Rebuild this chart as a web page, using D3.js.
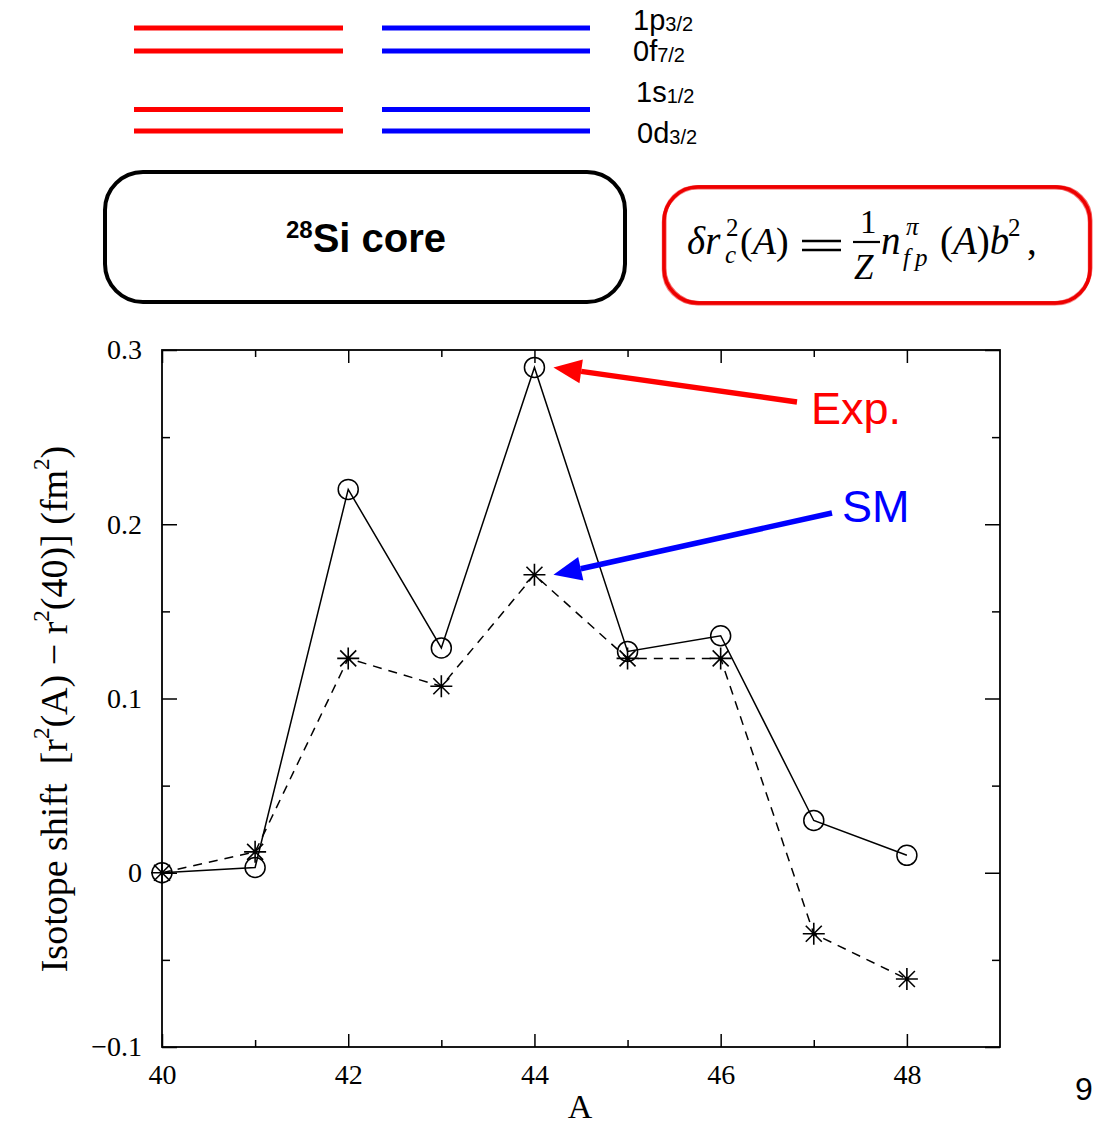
<!DOCTYPE html>
<html>
<head>
<meta charset="utf-8">
<script src="https://cdn.jsdelivr.net/npm/d3@7"></script>
<style>
  body { margin: 0; background: #fff; }
  svg { display: block; }
</style>
</head>
<body>
<div class="chart"></div>
<script>
'use strict';

// Data
const massNumbers = [40, 41, 42, 43, 44, 45, 46, 47, 48];
const expShift = [0, 0.003, 0.220, 0.129, 0.290, 0.127, 0.136, 0.030, 0.010];
const smShift = [0, 0.012, 0.123, 0.107, 0.171, 0.123, 0.123, -0.035, -0.061];
const xTickValues = [40, 42, 44, 46, 48];
const yTickValues = [-0.1, 0, 0.1, 0.2, 0.3];

const levelNames = ['1p', '0f', '1s', '0d'];
const levelJ = ['3/2', '7/2', '1/2', '3/2'];
const levelEnergy = [4.9, 4.0, 1.7, 0.85];

// Initialize
const w = 1101;
const h = 1124;
const plot = { left: 162, right: 1000, top: 350, bottom: 1047 };

const svg = d3.select('.chart')
  .append('svg')
  .attr('width', w)
  .attr('height', h);

const serif = '"Liberation Serif", "Times New Roman", serif';
const sans = '"Liberation Sans", Helvetica, Arial, sans-serif';

// Level scheme
const levelY = d3.scaleLinear().domain([0.85, 4.9]).range([131, 28]);
const levelLabelX = [633, 633, 636, 637];
const levelLabelY = [30, 61, 102, 143];

[{ x0: 134, x1: 343, color: '#ff0000' }, { x0: 382, x1: 590, color: '#0000ff' }]
  .forEach(col => {
    svg.append('g')
      .selectAll('line')
      .data(levelEnergy)
      .enter()
      .append('line')
      .attr('x1', col.x0)
      .attr('x2', col.x1)
      .attr('y1', d => levelY(d))
      .attr('y2', d => levelY(d))
      .attr('stroke', col.color)
      .attr('stroke-width', 5);
  });

const lvText = svg.append('g')
  .selectAll('text')
  .data(levelNames)
  .enter()
  .append('text')
  .attr('x', (d, i) => levelLabelX[i])
  .attr('y', (d, i) => levelLabelY[i])
  .attr('font-family', sans)
  .attr('font-size', 29)
  .attr('fill', '#000');
lvText.append('tspan').text(d => d);
lvText.append('tspan')
  .attr('font-size', 20)
  .attr('dy', 1)
  .text((d, i) => levelJ[i]);

// Si core box
svg.append('rect')
  .attr('x', 105)
  .attr('y', 172)
  .attr('width', 520)
  .attr('height', 130)
  .attr('rx', 38)
  .attr('fill', 'none')
  .attr('stroke', '#000')
  .attr('stroke-width', 4);

const core = svg.append('text')
  .attr('x', 366)
  .attr('y', 252)
  .attr('text-anchor', 'middle')
  .attr('font-family', sans)
  .attr('font-weight', 'bold')
  .attr('font-size', 40);
core.append('tspan').attr('font-size', 24).attr('dy', -14).text('28');
core.append('tspan').attr('dy', 14).text('Si core');

// Formula box (rough red border)
const rough = [[0, 0, 3.5, 1], [1.5, -1, 2, 0.6], [-1.5, 1.5, 1.5, 0.5], [0.5, 2, 1.2, 0.45], [-1, -1.5, 1.2, 0.45]];
svg.append('g')
  .selectAll('rect')
  .data(rough)
  .enter()
  .append('rect')
  .attr('x', d => 664 + d[0])
  .attr('y', 187)
  .attr('width', 426)
  .attr('height', 116)
  .attr('transform', d => `translate(0, ${d[1]})`)
  .attr('rx', 34)
  .attr('fill', 'none')
  .attr('stroke', '#ee0000')
  .attr('stroke-width', d => d[2])
  .attr('opacity', d => d[3]);

const fml = svg.append('g')
  .attr('font-family', serif)
  .attr('fill', '#000');
// a text run made of [string, italic] parts
function ft(x, y, parts, size) {
  const t = fml.append('text')
    .attr('x', x)
    .attr('y', y)
    .attr('font-size', size);
  parts.forEach(p => {
    t.append('tspan')
      .attr('font-style', p[1] ? 'italic' : 'normal')
      .text(p[0]);
  });
}
const fb = 254;
ft(687, fb, [['δr', true]], 39);
ft(726, 236, [['2', false]], 25);
ft(725, 263, [['c', true]], 25);
ft(740, fb, [['(', false], ['A', true], [')', false]], 38);
fml.selectAll('line.eq')
  .data([241, 250])
  .enter()
  .append('line')
  .attr('x1', 802).attr('x2', 841)
  .attr('y1', d => d).attr('y2', d => d)
  .attr('stroke', '#000').attr('stroke-width', 2.4);
ft(860, 233, [['1', false]], 33);
fml.append('line')
  .attr('x1', 853).attr('x2', 880)
  .attr('y1', 242).attr('y2', 242)
  .attr('stroke', '#000').attr('stroke-width', 2.2);
ft(854, 279, [['Z', true]], 35);
ft(881, fb, [['n', true]], 39);
ft(906, 235, [['π', true]], 25);
ft(903, 266, [['f\u2009p', true]], 25);
ft(940, fb, [['(', false], ['A', true], [')', false], ['b', true]], 39);
ft(1008, 236, [['2', false]], 25);
ft(1027, fb, [[',', false]], 39);

// Scales
const xScale = d3.scaleLinear().domain([40, 49]).range([plot.left, plot.right]);
const yScale = d3.scaleLinear().domain([-0.1, 0.3]).range([plot.bottom, plot.top]);

// Frame
svg.append('rect')
  .attr('x', plot.left)
  .attr('y', plot.top)
  .attr('width', plot.right - plot.left)
  .attr('height', plot.bottom - plot.top)
  .attr('fill', 'none')
  .attr('stroke', '#000')
  .attr('stroke-width', 1.8);

// Axes (inward ticks on all four sides)
const majorX = xTickValues;
const minorX = d3.range(41, 49, 2);
const majorY = yTickValues;
const minorY = [-0.05, 0.05, 0.15, 0.25];

function addAxis(axis, tr) {
  const g = svg.append('g').attr('transform', tr).call(axis);
  g.select('.domain').remove();
  g.selectAll('.tick line').attr('stroke', '#000').attr('stroke-width', 1.5);
  return g;
}

const xBottom = addAxis(d3.axisBottom(xScale).tickValues(majorX).tickSizeInner(-13).tickPadding(17)
  .tickFormat(d3.format('d')), `translate(0, ${plot.bottom})`);
xBottom.selectAll('text')
  .attr('font-family', serif)
  .attr('font-size', 28)
  .attr('fill', '#000');
addAxis(d3.axisBottom(xScale).tickValues(minorX).tickSizeInner(-7).tickFormat(''), `translate(0, ${plot.bottom})`);
addAxis(d3.axisTop(xScale).tickValues(majorX).tickSizeInner(-13).tickFormat(''), `translate(0, ${plot.top})`);
addAxis(d3.axisTop(xScale).tickValues(minorX).tickSizeInner(-7).tickFormat(''), `translate(0, ${plot.top})`);

const yLeft = addAxis(d3.axisLeft(yScale).tickValues(majorY).tickSizeInner(-15).tickPadding(20)
  .tickFormat(d => d === 0 ? '0' : d3.format('.1f')(d).replace('-', '\u2212')), `translate(${plot.left}, 0)`);
yLeft.selectAll('text')
  .attr('font-family', serif)
  .attr('font-size', 28)
  .attr('fill', '#000');
addAxis(d3.axisLeft(yScale).tickValues(minorY).tickSizeInner(-8).tickFormat(''), `translate(${plot.left}, 0)`);
addAxis(d3.axisRight(yScale).tickValues(majorY).tickSizeInner(-15).tickFormat(''), `translate(${plot.right}, 0)`);
addAxis(d3.axisRight(yScale).tickValues(minorY).tickSizeInner(-8).tickFormat(''), `translate(${plot.right}, 0)`);

// Axis titles
svg.append('text')
  .attr('x', 580)
  .attr('y', 1118)
  .attr('text-anchor', 'middle')
  .attr('font-family', serif)
  .attr('font-size', 34)
  .text('A');

const yTitle = svg.append('text')
  .attr('transform', 'translate(67, 709) rotate(-90)')
  .attr('text-anchor', 'middle')
  .attr('font-family', serif)
  .attr('font-size', 38);
yTitle.append('tspan').text('Isotope shift\u00a0\u00a0[r');
yTitle.append('tspan').attr('font-size', 23).attr('dy', -18).text('2');
yTitle.append('tspan').attr('dy', 18).text('(A) \u2212 r');
yTitle.append('tspan').attr('font-size', 23).attr('dy', -18).text('2');
yTitle.append('tspan').attr('dy', 18).text('(40)] (fm');
yTitle.append('tspan').attr('font-size', 23).attr('dy', -18).text('2');
yTitle.append('tspan').attr('dy', 18).text(')');

// Lines
const line = d3.line()
  .x((d, i) => xScale(massNumbers[i]))
  .y(d => yScale(d));

svg.append('path')
  .datum(expShift)
  .attr('d', line)
  .attr('fill', 'none')
  .attr('stroke', '#000')
  .attr('stroke-width', 1.5);

svg.append('path')
  .datum(smShift)
  .attr('d', line)
  .attr('fill', 'none')
  .attr('stroke', '#000')
  .attr('stroke-width', 1.5)
  .attr('stroke-dasharray', '9,7');

// Markers
svg.append('g')
  .selectAll('circle')
  .data(expShift)
  .enter()
  .append('circle')
  .attr('cx', (d, i) => xScale(massNumbers[i]))
  .attr('cy', d => yScale(d))
  .attr('r', 10)
  .attr('fill', 'none')
  .attr('stroke', '#000')
  .attr('stroke-width', 1.5);

const star = 'M0,-11V11M-11,0H11M-8,-8L8,8M-8,8L8,-8';
svg.append('g')
  .selectAll('path')
  .data(smShift)
  .enter()
  .append('path')
  .attr('transform', (d, i) => `translate(${xScale(massNumbers[i])}, ${yScale(d)})`)
  .attr('d', star)
  .attr('stroke', '#000')
  .attr('stroke-width', 1.6);

// Annotation arrows
function arrow(tip, tail, color) {
  const ang = Math.atan2(tail[1] - tip[1], tail[0] - tip[0]);
  const len = 28, half = 12;
  const bx = tip[0] + len * Math.cos(ang), by = tip[1] + len * Math.sin(ang);
  svg.append('line')
    .attr('x1', bx).attr('y1', by)
    .attr('x2', tail[0]).attr('y2', tail[1])
    .attr('stroke', color)
    .attr('stroke-width', 5.5);
  svg.append('polygon')
    .attr('points', [
      tip,
      [bx - half * Math.sin(ang), by + half * Math.cos(ang)],
      [bx + half * Math.sin(ang), by - half * Math.cos(ang)]
    ].map(p => p.join(',')).join(' '))
    .attr('fill', color);
}

arrow([xScale(44) + 19, yScale(expShift[4])], [797, 402], '#ff0000');
arrow([xScale(44) + 19, yScale(smShift[4])], [832, 513], '#0000ff');

svg.append('text')
  .attr('x', 811)
  .attr('y', 424)
  .attr('font-family', sans)
  .attr('font-size', 45)
  .attr('fill', '#ff0000')
  .text('Exp.');

svg.append('text')
  .attr('x', 842)
  .attr('y', 522)
  .attr('font-family', sans)
  .attr('font-size', 45)
  .attr('fill', '#0000ff')
  .text('SM');

// Page number
svg.append('text')
  .attr('x', 1075)
  .attr('y', 1100)
  .attr('font-family', sans)
  .attr('font-size', 32)
  .text('9');
</script>
</body>
</html>
